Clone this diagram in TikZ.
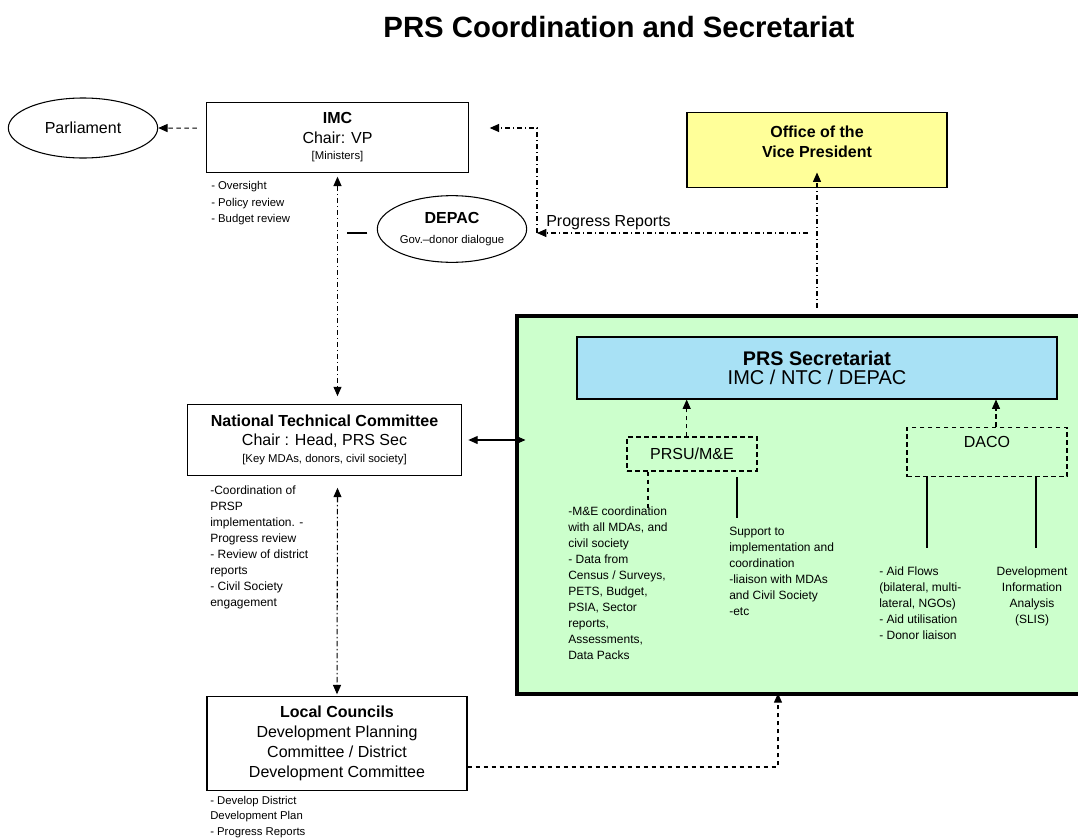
\documentclass[tikz,border=0pt]{standalone}
\usepackage{fontspec}
\setmainfont{Liberation Sans}
\usepackage{xcolor}
\usetikzlibrary{positioning, calc, arrows.meta, shapes.geometric}
\definecolor{vpyellow}{RGB}{255,255,153}
\definecolor{secblue}{RGB}{168,225,245}
\definecolor{prsgreen}{RGB}{204,255,204}

\begin{document}
\begin{tikzpicture}[x=0.75pt, y=-0.75pt,
    font=\fontsize{12}{14.5}\selectfont,
    box/.style={draw, line width=0.8pt, align=center, inner sep=2pt},
    oval/.style={draw, ellipse, line width=0.8pt, align=center, inner sep=0pt},
    dbox/.style={draw, line width=1pt, dash pattern=on 3.5pt off 2.5pt, align=center},
    note/.style={align=left, anchor=north west, inner sep=0pt, font=\fontsize{9}{12}\selectfont},
    ddline/.style={line width=0.8pt, dash pattern=on 4pt off 2pt on 1pt off 2pt},
    dline/.style={line width=0.8pt, dash pattern=on 3.5pt off 2.5pt},
    arr/.style={-{Triangle[length=7pt,width=6pt]}},
    darr/.style={{Triangle[length=7pt,width=6pt]}-{Triangle[length=7pt,width=6pt]}}
]
    \useasboundingbox (0,0) rectangle (1078,839);

    % Heading
    \node[font=\bfseries\fontsize{22}{26}\selectfont] (title) at (619,27) {PRS Coordination and Secretariat};

    % --- UPPER TIER ---
    \node[oval, minimum width=112pt, minimum height=45pt] (parl) at (83,128) {Parliament};
    \node[box, minimum width=196pt, minimum height=52pt] (imc) at (337.5,137.5)
        {\textbf{IMC}\\Chair: VP\\[-2pt]{\fontsize{8.5}{10}\selectfont [Ministers]}};
    \node[note, font=\fontsize{8.5}{12.4}\selectfont] (imcnotes) at (211,181)
        {- Oversight\\- Policy review\\- Budget review};
    \node[oval, minimum width=112pt, minimum height=50pt] (depac) at (452,229)
        {\textbf{DEPAC}\\{\fontsize{8.5}{10}\selectfont Gov.–donor dialogue}};

    % Office of the Vice President (yellow)
    \node[box, fill=vpyellow, minimum width=195pt, minimum height=56pt] (vp) at (817,150) {};
    \node[align=center, font=\bfseries\fontsize{12}{15}\selectfont] (vptxt) at (817,142) {Office of the\\Vice President};

    % IMC reports to Parliament
    \draw[dline, arr] ([xshift=-7pt, yshift=7pt]imc.west) -- (parl.east);

    % Progress Reports loop back to DEPAC and IMC
    \coordinate (prsplit) at (808,233);
    \coordinate (prcorner) at (537,128);
    \draw[ddline, arr] (prsplit) -- (prsplit -| prcorner);
    \draw[ddline, arr] (prsplit -| prcorner) -- (prcorner) -- ([xshift=15.75pt]imc.east |- prcorner);
    \node[anchor=base west, inner sep=0pt] (prlbl) at (546,226) {Progress Reports};

    % short link beside DEPAC
    \draw[line width=0.8pt] ([xshift=-7pt, yshift=-3pt]depac.west) -- ++(-20,0);

    % --- SECRETARIAT BLOCK ---
    \node[draw, line width=3pt, fill=prsgreen, minimum width=430pt, minimum height=283.5pt, inner sep=0pt] (prs) at (803.5,505) {};
    \node[box, fill=secblue, minimum width=360pt, minimum height=46.5pt] (sec) at (817,368)
        {{\fontsize{14.8}{16.5}\bfseries\selectfont PRS Secretariat}\\{\fontsize{15}{16.5}\selectfont IMC / NTC / DEPAC}};

    % Secretariat up to the Vice President
    \draw[ddline, arr] ([yshift=4.5pt]prs.north -| vp.south) -- ([yshift=11.5pt]vp.south);

    % Units under the secretariat
    \node[dbox, minimum width=97.5pt, minimum height=25.5pt] (prsu) at (692,454) {PRSU/M\&E};
    \node[dbox, minimum width=120pt, minimum height=37pt,
        label={[anchor=north, inner sep=0pt, yshift=-7pt]north:DACO}] (daco) at (987,452) {};
    \draw[dline, arr] ([xshift=-4pt]prsu.north) -- ([xshift=-4pt]prsu.north |- sec.south);
    \draw[dline, arr] ([xshift=6.75pt]daco.north) -- ([xshift=6.75pt]daco.north |- sec.south);

    % Unit tasks
    \node[note] (prsunotes) at (568,507)
        {-M\&E coordination\\with all MDAs, and\\civil society\\- Data from\\Census / Surveys,\\PETS, Budget,\\PSIA, Sector\\reports,\\Assessments,\\Data Packs};
    \node[note] (supnotes) at (729,527)
        {Support to\\implementation and\\coordination\\-liaison with MDAs\\and Civil Society\\-etc};
    \node[note] (aidnotes) at (879,567)
        {- Aid Flows\\(bilateral, multi-\\lateral, NGOs)\\- Aid utilisation\\- Donor liaison};
    \node[note, anchor=north, align=center] (slisnotes) at (1032,567)
        {Development\\Information\\Analysis\\(SLIS)};

    \draw[dline] ([xshift=-33pt]prsu.south) -- ++(0,36);
    \draw[line width=0.8pt] ([xshift=33.75pt, yshift=-4pt]prsu.south) -- ++(0,41);
    \draw[line width=0.8pt] ([xshift=-45pt]daco.south) -- ++(0,71);
    \draw[line width=0.8pt] ([xshift=36.75pt]daco.south) -- ++(0,71);

    % --- MIDDLE TIER ---
    \node[box, minimum width=206pt, minimum height=53pt] (ntc) at (324.5,440)
        {\textbf{National Technical Committee}\\Chair : Head, PRS Sec\\[-2pt]{\fontsize{8.5}{10}\selectfont [Key MDAs, donors, civil society]}};
    \node[note] (ntcnotes) at (210,486)
        {-Coordination of\\PRSP\\implementation. -\\Progress review\\- Review of district\\reports\\- Civil Society\\engagement};

    % IMC <-> NTC and NTC <-> secretariat
    \draw[ddline, darr] ([yshift=-3pt]imc.south) -- ([yshift=6pt]imc.south |- ntc.north);
    \draw[line width=0.8pt, darr] ([xshift=4.5pt]ntc.east) -- ([xshift=8pt]prs.west |- ntc.east);

    % --- LOWER TIER ---
    \node[box, minimum width=195pt, minimum height=70pt, font=\fontsize{12}{15}\selectfont] (lc) at (337,743.5)
        {\textbf{Local Councils}\\Development Planning\\Committee / District\\Development Committee};
    \node[note, font=\fontsize{8.5}{11.6}\selectfont] (lcnotes) at (210,796)
        {- Develop District\\Development Plan\\- Progress Reports};

    \draw[ddline, darr] ([yshift=-9pt]imc.south |- ntc.south) -- ([yshift=1.5pt]lc.north);

    % Local Councils feed the secretariat
    \coordinate (lcturn) at (778,767);
    \draw[dline, arr] (lc.east |- lcturn) -- (lcturn) -- ([yshift=2pt]lcturn |- prs.south);

\end{tikzpicture}
\end{document}
